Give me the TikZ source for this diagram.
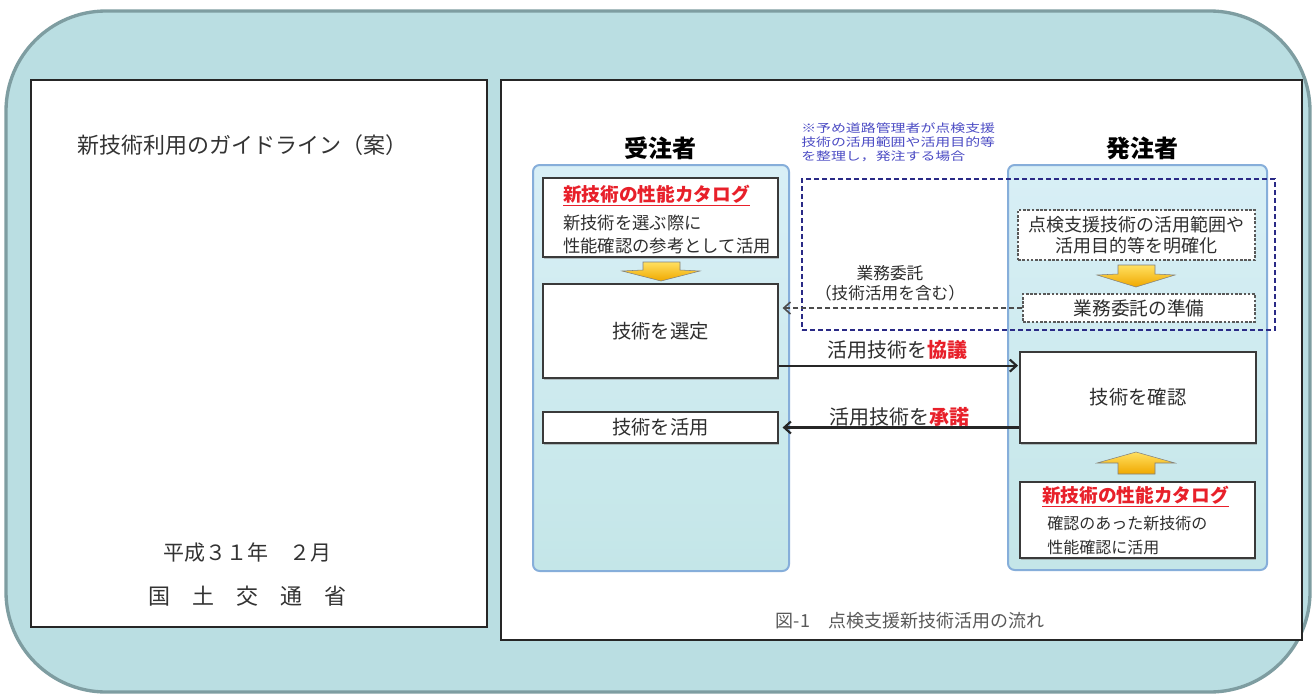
\documentclass[tikz,border=0pt]{standalone}
\usepackage{fontspec}
\usepackage{graphicx}
\setmainfont{Noto Sans CJK JP}
\usetikzlibrary{arrows.meta,fit,shadows}
\definecolor{outerfill}{HTML}{BADEE2}
\definecolor{outerline}{HTML}{7E9DA1}
\definecolor{lanetop}{HTML}{D8EFF6}
\definecolor{lanebot}{HTML}{C4E6E8}
\definecolor{laneline}{HTML}{86AEDA}
\definecolor{boxline}{HTML}{3A3A3A}
\definecolor{redtxt}{HTML}{E8202A}
\definecolor{notecol}{HTML}{4B4BC4}
\definecolor{navy}{HTML}{2A2A86}
\definecolor{arrowtop}{HTML}{FFE060}
\definecolor{arrowbot}{HTML}{F0A800}
\definecolor{txt}{HTML}{2E2E2E}
\begin{document}
\begin{tikzpicture}[x=0.75pt,y=-0.75pt,
  panel/.style={draw=black!85, line width=1.2pt, fill=white, inner sep=0pt},
  lane/.style={draw=laneline, line width=1.5pt, shade, top color=lanetop, bottom color=lanebot, rounded corners=5pt, inner sep=0pt},
  box/.style={draw=boxline, line width=0.9pt, fill=white, inner sep=0pt, drop shadow={shadow xshift=0.6pt, shadow yshift=-1.2pt, fill=black!45}},
  dbox/.style={draw=gray!70!black, dash pattern=on 2pt off 1.2pt, line width=0.8pt, fill=white, inner sep=0pt},
  scopebox/.style={draw=navy, dash pattern=on 4pt off 2pt, line width=1.1pt, inner sep=0pt},
  t/.style={text=txt, inner sep=0pt},
  link/.style={line width=1.6pt, draw=black!85, -{Straight Barb[length=5pt,width=9pt]}},
  dlink/.style={line width=1.2pt, draw=black!70, dash pattern=on 4pt off 2pt, -{Straight Barb[length=5pt,width=9pt]}},
  blk/.style={top color=arrowtop, bottom color=arrowbot, draw=black!50, line width=0.4pt}
]
\useasboundingbox (0,0) rectangle (1313,696);
\fill[white] (0,0) rectangle (1313,696);
\draw[draw=outerline, line width=2.5pt, fill=outerfill, rounded corners=75pt] (6,11) rectangle (1310,692);

% panels
\node[panel, fit={(31,80)(487,627)}] (lp) {};
\node[panel, fit={(501,80)(1302,640)}] (rp) {};

% left panel texts
\node[t, text=black!80, font=\fontsize{16.5}{18}\selectfont] (title) at (242,145) {新技術利用のガイドライン（案）};
\node[t, text=black!80, font=\fontsize{15.75}{18}\selectfont] (date) at (247,553) {平成３１年　２月};
\node[t, text=black!80, font=\fontsize{16.5}{18}\selectfont] (ministry) at (247,596) {国　土　交　通　省};

% headers
\node[t, text=black, font=\bfseries\fontsize{18}{20}\selectfont] (lhead) at (660,148) {受注者};
\node[t, text=black, font=\bfseries\fontsize{18}{20}\selectfont] (rhead) at (1142,148) {発注者};

% lanes
\node[lane, fit={(533,165)(789,571)}] (llane) {};
\node[lane, fit={(1008,165)(1267,570)}] (rlane) {};

% left boxes
\node[box, fit={(543,178)(778,257)}] (cat1) {};
\node[box, fit={(543,284)(778,378)}] (sel) {};
\node[box, fit={(543,412)(778,443)}] (use) {};

% right boxes
\node[dbox, fit={(1018,210)(1255,260)}] (clar) {};
\node[dbox, fit={(1023,294)(1255,322)}] (prep) {};
\node[box, fit={(1020,352)(1256,443)}] (conf) {};
\node[box, fit={(1020,482)(1255,558)}] (cat2) {};

% scope box
\node[scopebox, fit={(802,179)(1275,330)}] (scope) {};

% note
\node[t, anchor=west, text=notecol, font=\fontsize{8.6}{9.75}\selectfont] (note1) at (801,128) {\scalebox{1.3}[1]{※予め道路管理者が点検支援}};
\node[t, anchor=west, text=notecol, font=\fontsize{8.6}{9.75}\selectfont] (note2) at (801,142) {\scalebox{1.3}[1]{技術の活用範囲や活用目的等}};
\node[t, anchor=west, text=notecol, font=\fontsize{8.6}{9.75}\selectfont] (note3) at (801,156) {\scalebox{1.3}[1]{を整理し，発注する場合}};

% catalog 1 texts
\node[t, anchor=west, text=redtxt, font=\bfseries\fontsize{14}{16}\selectfont] (cat1t) at (563,194) {新技術の性能カタログ};
\draw[redtxt, line width=0.7pt] ([yshift=-1.5pt]cat1t.south west) -- ([yshift=-1.5pt]cat1t.south east);
\node[t, anchor=west, font=\fontsize{13}{15}\selectfont] (cat1a) at (563,223) {新技術を選ぶ際に};
\node[t, anchor=west, font=\fontsize{13}{15}\selectfont] (cat1b) at (563,246) {性能確認の参考として活用};

\node[t, font=\fontsize{14.5}{16}\selectfont] (selt) at (sel) {技術を選定};
\node[t, font=\fontsize{14.5}{16}\selectfont] (uset) at (use) {技術を活用};

% right texts
\node[t, align=center, font=\fontsize{13.5}{15.75}\selectfont] (clart) at (clar) {点検支援技術の活用範囲や\\活用目的等を明確化};
\node[t, font=\fontsize{14}{16}\selectfont] (prept) at (prep) {業務委託の準備};
\node[t, font=\fontsize{14.5}{16}\selectfont] (conft) at (conf) {技術を確認};
\node[t, anchor=west, text=redtxt, font=\bfseries\fontsize{14}{16}\selectfont] (cat2t) at (1042,495) {新技術の性能カタログ};
\draw[redtxt, line width=0.7pt] ([yshift=-1.5pt]cat2t.south west) -- ([yshift=-1.5pt]cat2t.south east);
\node[t, anchor=west, font=\fontsize{12}{14}\selectfont] (cat2a) at (1047,523) {確認のあった新技術の};
\node[t, anchor=west, font=\fontsize{12}{14}\selectfont] (cat2b) at (1047,547) {性能確認に活用};

% block arrows
\draw[blk] (643,262) -- (680,262) -- (680,270) -- (700,271) -- (661,281) -- (622,271) -- (643,270) -- cycle;
\draw[blk] (1118,265) -- (1155,265) -- (1155,274) -- (1175,275) -- (1136,287) -- (1097,275) -- (1118,274) -- cycle;
\draw[blk] (1136,452) -- (1175,463) -- (1155,463) -- (1155,474) -- (1118,474) -- (1118,463) -- (1097,463) -- cycle;

% connectors
\draw[dlink, shorten >=3pt] (prep.west) -- (sel.east |- prep.west);
\node[t, align=center, font=\fontsize{12.5}{15}\selectfont] (itaku) at (890,283) {業務委託\\（技術活用を含む）};

\draw[link, shorten >=1pt] ([yshift=9.75pt]sel.south east) -- ([yshift=9.75pt]sel.south east -| conf.west);
\node[t, font=\fontsize{15}{17}\selectfont] (kyogi) at (897,350) {活用技術を\textcolor{redtxt}{\bfseries 協議}};

\draw[link, shorten >=3pt] (use.east -| conf.west) -- (use.east);
\node[t, font=\fontsize{15}{17}\selectfont] (shodaku) at (899,417) {活用技術を\textcolor{redtxt}{\bfseries 承諾}};

% caption
\node[t, text=black!65, font=\fontsize{13.5}{15}\selectfont] (cap) at (910,621) {図-1　点検支援新技術活用の流れ};
\end{tikzpicture}
\end{document}
